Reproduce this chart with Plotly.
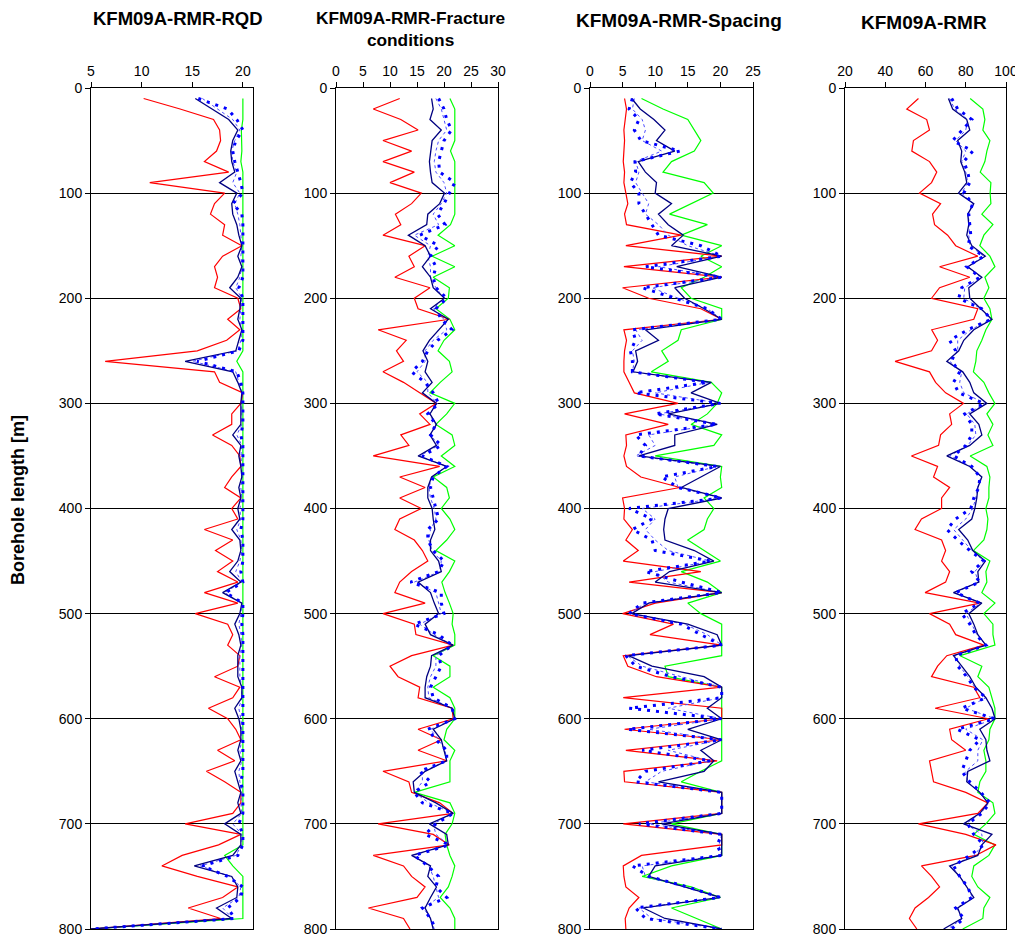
import plotly.graph_objects as go

# ---------------- data ----------------
depth = list(range(10, 801, 10))

# Panel 1: RQD
rqd_min = [10.2, 13.8, 17.1, 17.7, 17.8, 17.4, 16.2, 18.6, 10.8, 18.2,
           17.2, 16.8, 18.2, 18.0, 19.9, 18.0, 17.2, 17.5, 17.2, 19.5,
           19.8, 18.5, 19.7, 18.4, 15.5, 6.4, 17.2, 17.7, 20.0, 19.8,
           18.9, 18.9, 17.0, 18.9, 19.7, 19.8, 18.9, 18.2, 19.8, 18.9,
           19.5, 16.2, 19.0, 17.3, 19.0, 17.5, 19.5, 16.2, 19.5, 15.3,
           18.5, 19.0, 18.5, 19.7, 19.5, 17.2, 19.7, 19.0, 16.6, 18.5,
           19.3, 19.8, 17.5, 19.2, 16.4, 18.2, 19.8, 19.8, 19.0, 14.3,
           19.8, 17.6, 14.0, 12.0, 15.5, 19.5, 18.0, 14.6, 17.8, 5.0]
rqd_max = [20.0, 20.0, 20.0, 19.85, 19.85, 19.9, 19.8, 20.0, 20.0, 20.0,
           20.0, 20.0, 20.0, 20.0, 20.0, 20.0, 20.0, 20.0, 20.0, 20.0,
           20.0, 20.0, 20.0, 20.0, 20.0, 19.4, 20.0, 20.0, 20.0, 20.0,
           20.0, 20.0, 20.0, 20.0, 20.0, 20.0, 20.0, 20.0, 20.0, 20.0,
           20.0, 20.0, 20.0, 20.0, 20.0, 20.0, 20.0, 20.0, 20.0, 20.0,
           20.0, 20.0, 20.0, 20.0, 20.0, 20.0, 20.0, 20.0, 20.0, 20.0,
           20.0, 20.0, 20.0, 20.0, 20.0, 20.0, 20.0, 20.0, 20.0, 20.0,
           20.0, 20.0, 18.2, 19.0, 20.0, 20.0, 20.0, 20.0, 20.0, 5.0]
rqd_mean = [15.3, 16.9, 18.6, 19.5, 19.0, 18.8, 18.9, 19.2, 17.7, 19.4,
            18.9, 19.0, 19.4, 19.6, 19.9, 19.5, 19.9, 19.5, 18.7, 19.8,
            19.7, 19.5, 19.9, 19.6, 19.3, 14.3, 19.0, 19.5, 19.9, 19.8,
            19.8, 19.8, 19.0, 19.8, 19.6, 19.8, 19.9, 19.6, 19.8, 19.5,
            19.7, 18.9, 19.7, 19.8, 19.5, 18.7, 19.8, 18.0, 19.9, 19.7,
            19.2, 19.6, 19.8, 19.5, 19.5, 19.5, 19.9, 19.9, 19.2, 19.6,
            19.8, 19.8, 19.5, 19.8, 19.2, 19.5, 19.8, 19.5, 19.8, 18.2,
            19.8, 19.8, 19.0, 15.2, 18.9, 19.5, 19.4, 17.4, 18.9, 5.0]
rqd_dot = [15.6, 18.5, 19.4, 20.0, 19.3, 19.0, 19.2, 19.5, 19.8, 20.0,
           19.0, 19.9, 20.0, 20.0, 20.0, 20.0, 20.0, 20.0, 19.6, 20.0,
           20.0, 20.0, 20.0, 20.0, 19.6, 15.5, 19.4, 19.8, 20.0, 20.0,
           20.0, 20.0, 19.8, 20.0, 20.0, 20.0, 20.0, 20.0, 20.0, 20.0,
           20.0, 19.8, 20.0, 20.0, 20.0, 19.8, 20.0, 18.3, 20.0, 20.0,
           19.9, 20.0, 20.0, 20.0, 20.0, 20.0, 20.0, 20.0, 20.0, 20.0,
           20.0, 20.0, 20.0, 20.0, 20.0, 19.8, 20.0, 20.0, 20.0, 19.6,
           20.0, 20.0, 19.5, 16.0, 18.5, 20.0, 19.8, 18.5, 19.2, 5.0]
rqd_dash = [16.0, 17.5, 19.0, 19.7, 19.2, 18.9, 19.0, 19.4, 19.0, 19.7,
            19.2, 19.5, 19.7, 19.8, 19.9, 19.8, 19.9, 19.7, 19.3, 19.9,
            19.8, 19.7, 19.9, 19.8, 19.5, 15.0, 19.3, 19.6, 19.9, 19.9,
            19.9, 19.9, 19.4, 19.9, 19.8, 19.9, 19.9, 19.8, 19.9, 19.7,
            19.8, 19.4, 19.8, 19.9, 19.7, 19.3, 19.9, 18.2, 19.9, 19.8,
            19.6, 19.8, 19.9, 19.7, 19.7, 19.7, 19.9, 19.9, 19.6, 19.8,
            19.9, 19.9, 19.7, 19.9, 19.6, 19.7, 19.9, 19.8, 19.9, 19.0,
            19.9, 19.9, 19.3, 15.8, 18.7, 19.8, 19.6, 18.0, 19.0, 5.0]

# Panel 2: Fracture conditions
frac_min = [11.8, 6.9, 12.0, 15.2, 8.7, 14.0, 8.7, 14.5, 10.0, 15.8,
            14.0, 11.0, 12.0, 8.7, 16.5, 13.5, 14.5, 10.9, 17.4, 14.5,
            15.2, 21.0, 7.8, 13.0, 11.2, 12.5, 8.7, 12.5, 15.5, 18.6,
            15.5, 17.4, 12.0, 13.5, 6.9, 19.2, 11.8, 16.5, 11.8, 15.8,
            11.8, 10.9, 14.5, 16.0, 17.0, 14.0, 11.8, 10.9, 16.5, 8.7,
            14.5, 14.8, 21.7, 14.0, 10.0, 11.5, 15.5, 15.2, 21.5, 21.7,
            15.2, 19.5, 15.2, 20.5, 8.7, 13.5, 14.0, 19.2, 21.7, 7.8,
            18.0, 21.0, 6.9, 12.5, 14.0, 16.5, 15.0, 6.0, 12.5, 13.7]
frac_max = [21.1, 22.0, 22.0, 22.0, 22.0, 21.2, 22.0, 22.0, 22.0, 22.0,
            22.0, 22.0, 21.2, 18.9, 22.0, 17.8, 22.0, 18.0, 21.0, 20.8,
            18.5, 21.1, 22.0, 20.0, 18.9, 21.0, 21.5, 19.3, 17.4, 22.0,
            20.5, 18.5, 21.5, 22.0, 19.5, 22.0, 18.0, 20.5, 21.0, 19.5,
            21.1, 22.0, 20.5, 18.5, 22.0, 21.0, 19.6, 20.2, 21.0, 21.7,
            21.5, 22.0, 22.0, 18.0, 21.1, 21.1, 18.0, 21.1, 22.0, 22.0,
            20.5, 20.0, 22.0, 21.1, 21.1, 21.1, 14.5, 21.1, 22.0, 21.5,
            20.2, 20.5, 21.1, 22.0, 21.5, 20.8, 19.3, 21.1, 22.0, 22.0]
frac_mean = [17.7, 18.0, 17.4, 19.5, 17.8, 17.5, 17.3, 17.5, 17.8, 20.1,
             19.2, 17.0, 16.8, 13.4, 16.5, 17.5, 16.0, 17.5, 18.0, 20.1,
             17.5, 20.8, 19.0, 17.3, 16.1, 17.0, 16.5, 17.8, 16.0, 18.6,
             17.4, 18.6, 17.4, 18.6, 15.2, 20.5, 17.7, 17.0, 17.0, 17.8,
             18.0, 18.3, 17.5, 17.5, 19.0, 19.5, 15.2, 17.5, 18.2, 19.0,
             16.5, 17.5, 21.7, 17.7, 17.5, 16.8, 16.5, 16.5, 21.5, 22.0,
             18.0, 19.5, 20.0, 20.5, 16.5, 14.3, 14.5, 18.5, 21.7, 17.3,
             20.5, 20.8, 14.0, 17.5, 17.0, 18.6, 17.5, 16.5, 17.5, 18.0]
frac_dot = [19.0, 20.0, 20.5, 21.4, 20.0, 19.5, 19.0, 19.2, 22.0, 21.0,
            20.0, 18.8, 20.2, 15.5, 19.0, 17.5, 18.5, 18.0, 18.5, 20.5,
            18.5, 19.5, 21.5, 18.8, 17.0, 16.0, 14.0, 16.5, 18.0, 19.0,
            17.0, 18.5, 17.5, 19.5, 16.0, 20.5, 18.0, 17.5, 18.0, 18.5,
            19.0, 17.0, 17.0, 18.0, 20.0, 19.0, 13.8, 19.5, 19.5, 20.0,
            14.5, 19.0, 21.5, 19.0, 19.5, 18.5, 17.5, 18.0, 21.5, 22.0,
            17.0, 18.5, 20.5, 20.5, 15.5, 17.5, 14.5, 16.0, 21.7, 18.5,
            16.5, 21.0, 14.5, 17.0, 19.0, 18.5, 20.5, 16.0, 17.5, 18.5]
frac_dash = [18.5, 19.5, 20.0, 20.5, 19.0, 18.5, 18.2, 18.5, 20.0, 20.5,
             19.5, 18.0, 19.0, 14.5, 17.5, 17.0, 17.5, 17.5, 18.5, 20.0,
             18.0, 20.0, 20.5, 18.0, 16.5, 16.5, 15.0, 17.0, 17.0, 18.8,
             17.2, 18.5, 17.5, 19.0, 15.5, 20.5, 17.8, 17.2, 17.5, 18.2,
             18.5, 17.5, 17.2, 17.8, 19.5, 19.2, 14.5, 18.5, 19.0, 19.5,
             15.5, 18.2, 21.5, 18.5, 18.5, 17.5, 17.0, 17.2, 21.5, 22.0,
             17.5, 19.0, 20.2, 20.5, 16.0, 16.0, 14.5, 17.2, 21.7, 18.0,
             18.5, 20.8, 14.3, 17.2, 18.0, 18.5, 19.0, 16.2, 17.5, 18.2]

# Panel 3: Spacing
spc_min = [5.3, 5.6, 5.4, 5.2, 5.3, 5.2, 5.1, 5.3, 5.2, 5.5,
           5.8, 5.3, 5.6, 14.0, 5.5, 20.2, 5.2, 20.2, 5.0, 9.0,
           17.0, 20.2, 5.2, 5.6, 5.3, 5.2, 5.2, 6.0, 6.8, 13.5,
           5.3, 12.0, 5.5, 5.6, 5.2, 5.6, 7.8, 13.8, 5.0, 5.3,
           5.2, 6.5, 5.5, 7.4, 5.1, 17.0, 6.0, 20.2, 10.0, 5.0,
           12.8, 9.2, 20.2, 5.1, 5.8, 10.2, 20.2, 5.1, 20.2, 20.2,
           5.3, 20.2, 5.5, 19.5, 5.2, 5.3, 20.2, 20.2, 20.2, 5.1,
           20.2, 20.2, 7.9, 5.1, 5.2, 5.5, 7.5, 6.0, 5.4, 5.5]
spc_max = [7.9, 11.2, 15.0, 16.0, 17.0, 16.0, 12.5, 11.2, 17.5, 18.9,
           15.5, 12.2, 18.0, 14.0, 20.2, 17.0, 20.2, 17.5, 14.0, 15.5,
           20.2, 20.2, 14.0, 13.5, 11.0, 12.0, 9.4, 18.6, 20.2, 19.5,
           18.0, 15.5, 20.2, 19.0, 10.0, 20.2, 20.0, 20.2, 17.5, 19.0,
           18.0, 17.5, 15.0, 17.5, 20.0, 14.0, 18.0, 20.2, 15.0, 17.0,
           20.2, 20.2, 20.2, 20.2, 11.5, 12.0, 20.2, 20.2, 20.2, 20.2,
           20.2, 20.2, 20.2, 20.2, 17.0, 14.0, 20.2, 20.2, 20.2, 12.5,
           20.2, 20.2, 20.2, 12.5, 8.0, 15.5, 20.0, 12.5, 16.5, 20.2]
spc_mean = [6.4, 7.7, 9.8, 11.5, 10.2, 13.0, 7.4, 8.5, 10.2, 10.0,
            12.5, 10.5, 12.0, 14.3, 12.5, 20.2, 13.3, 20.2, 13.0, 14.5,
            17.5, 20.2, 8.5, 10.5, 7.0, 7.3, 6.6, 18.6, 15.5, 20.0,
            12.0, 19.5, 13.0, 13.0, 7.5, 20.0, 17.0, 14.0, 20.2, 12.0,
            11.5, 11.3, 11.5, 16.0, 19.0, 12.2, 10.0, 20.2, 9.0, 6.4,
            15.0, 19.5, 20.2, 5.9, 9.5, 17.5, 20.2, 20.2, 18.0, 20.2,
            15.0, 20.2, 17.0, 19.0, 17.5, 10.5, 20.2, 20.2, 20.2, 11.0,
            20.2, 20.2, 20.2, 10.0, 9.0, 14.5, 20.0, 8.2, 11.5, 20.2]
spc_dot = [6.5, 6.0, 7.5, 6.8, 7.8, 13.8, 6.9, 7.0, 6.2, 7.5,
           7.5, 8.5, 9.5, 10.5, 17.0, 20.2, 8.5, 20.2, 8.0, 13.0,
           18.0, 20.2, 6.5, 7.0, 6.2, 6.5, 6.5, 18.0, 7.0, 20.0,
           10.0, 19.5, 7.0, 8.5, 7.5, 19.5, 11.0, 13.5, 20.2, 6.0,
           9.5, 6.5, 9.5, 10.0, 18.5, 8.5, 14.0, 20.2, 8.0, 6.0,
           14.0, 17.0, 20.2, 5.5, 7.0, 12.5, 20.2, 20.2, 6.0, 20.2,
           5.8, 20.2, 8.0, 18.5, 8.5, 7.0, 20.2, 20.2, 20.2, 7.5,
           20.2, 19.5, 20.2, 6.5, 9.0, 15.0, 20.0, 7.0, 8.5, 20.2]
spc_dash = [6.8, 6.5, 8.0, 8.5, 8.0, 11.0, 7.0, 7.5, 7.0, 8.0,
            9.0, 8.5, 10.5, 12.0, 15.0, 20.2, 10.5, 20.2, 9.5, 13.5,
            18.0, 20.2, 7.0, 8.0, 6.5, 6.8, 6.5, 18.2, 10.0, 20.0,
            10.5, 19.5, 9.0, 10.0, 7.0, 19.5, 13.0, 13.5, 20.2, 8.0,
            10.0, 8.5, 10.0, 12.0, 18.5, 10.0, 12.0, 20.2, 8.5, 6.0,
            14.5, 18.0, 20.2, 5.7, 8.0, 14.0, 20.2, 20.2, 12.0, 20.2,
            9.0, 20.2, 12.0, 18.5, 11.0, 8.5, 20.2, 20.2, 20.2, 9.0,
            20.2, 19.8, 20.2, 8.0, 8.5, 14.5, 20.0, 7.5, 9.5, 20.2]

# Panel 4: RMR
rmr_min = [56.5, 50.7, 60.6, 62.0, 54.0, 53.2, 62.0, 65.6, 63.0, 57.0,
           67.5, 63.5, 64.5, 71.0, 75.0, 86.0, 67.0, 82.0, 67.0, 63.0,
           86.0, 84.0, 63.1, 66.0, 63.0, 44.9, 62.0, 65.0, 70.0, 78.9,
           72.0, 73.0, 67.5, 66.5, 53.0, 66.0, 64.0, 72.0, 68.0, 68.0,
           58.0, 54.8, 68.0, 70.0, 68.0, 72.0, 70.0, 59.8, 87.0, 62.0,
           72.0, 75.0, 89.0, 70.6, 66.0, 63.0, 84.0, 87.0, 64.8, 91.3,
           72.0, 73.0, 80.0, 62.0, 63.0, 64.0, 80.0, 91.0, 86.0, 56.5,
           80.0, 95.0, 85.0, 58.0, 63.0, 67.0, 61.5, 54.8, 52.0, 55.7]
rmr_max = [82.2, 88.5, 89.5, 88.5, 92.0, 90.5, 89.5, 87.2, 92.5, 92.1,
           92.5, 88.0, 93.5, 89.0, 87.0, 92.0, 94.5, 89.5, 91.5, 89.0,
           92.0, 93.0, 90.0, 88.0, 85.5, 85.0, 83.8, 89.0, 91.5, 94.5,
           90.5, 93.5, 91.0, 93.5, 82.2, 90.5, 92.0, 91.5, 91.5, 90.0,
           91.0, 90.5, 89.0, 83.8, 92.0, 90.0, 90.5, 88.0, 94.5, 89.0,
           93.5, 93.5, 94.5, 77.2, 88.0, 86.0, 91.5, 93.0, 94.5, 94.5,
           92.0, 91.5, 89.0, 90.0, 90.0, 87.0, 86.0, 93.5, 94.5, 90.0,
           84.0, 94.5, 91.5, 84.0, 83.0, 86.0, 92.0, 89.0, 88.5, 78.5]
rmr_mean = [71.4, 73.5, 80.5, 82.0, 76.0, 78.0, 77.5, 79.5, 80.5, 76.4,
            84.0, 81.0, 81.5, 80.5, 83.0, 89.7, 81.0, 88.0, 81.5, 82.0,
            87.5, 93.0, 84.0, 79.0, 76.5, 70.6, 78.5, 82.0, 84.0, 90.5,
            82.0, 86.5, 88.0, 82.0, 70.6, 82.0, 88.0, 86.0, 85.5, 84.5,
            83.0, 76.5, 81.0, 83.5, 89.7, 86.0, 86.5, 73.9, 88.0, 81.5,
            84.0, 86.0, 90.0, 73.9, 78.0, 82.0, 85.0, 90.0, 93.0, 94.6,
            87.0, 90.0, 90.5, 92.0, 81.0, 80.5, 87.0, 91.0, 87.0, 78.9,
            93.0, 88.0, 86.0, 72.0, 77.0, 80.5, 84.0, 76.0, 78.0, 69.0]
rmr_dot = [73.0, 76.0, 83.0, 78.0, 73.5, 83.5, 79.0, 81.0, 82.0, 79.0,
           83.5, 81.5, 82.0, 82.5, 81.0, 89.0, 80.5, 87.0, 78.0, 76.5,
           88.0, 92.5, 81.0, 72.0, 75.0, 73.0, 77.0, 73.9, 76.5, 89.0,
           79.5, 83.0, 83.0, 80.0, 74.0, 83.0, 87.0, 86.5, 84.0, 82.5,
           75.0, 70.6, 76.0, 82.0, 89.0, 83.0, 87.0, 75.0, 87.0, 78.0,
           82.0, 85.0, 90.0, 75.0, 76.0, 80.5, 84.0, 90.0, 78.0, 94.5,
           75.6, 87.0, 82.0, 80.0, 78.0, 82.0, 87.5, 92.0, 88.0, 81.0,
           84.0, 89.0, 82.0, 74.0, 77.0, 81.0, 83.0, 75.0, 79.0, 73.0]
rmr_dash = [72.0, 74.5, 81.0, 80.0, 75.0, 80.0, 78.0, 80.0, 81.0, 78.0,
            83.5, 81.0, 82.0, 81.5, 82.0, 89.0, 81.0, 87.5, 79.5, 79.0,
            87.5, 92.5, 82.5, 76.0, 76.0, 72.0, 78.0, 77.0, 79.0, 89.5,
            80.5, 84.5, 85.0, 81.0, 72.0, 82.5, 87.5, 86.0, 85.0, 83.5,
            80.0, 74.0, 78.5, 83.0, 89.0, 84.5, 86.5, 74.5, 87.5, 80.0,
            83.0, 85.5, 90.0, 74.5, 77.0, 81.0, 84.5, 90.0, 80.0, 94.5,
            80.0, 88.5, 86.0, 86.0, 80.0, 81.0, 87.0, 91.5, 87.5, 80.0,
            88.0, 88.5, 84.0, 73.0, 77.0, 80.5, 83.5, 75.5, 78.5, 71.0]

titles = ["KFM09A-RMR-RQD", "KFM09A-RMR-Fracture<br>conditions",
          "KFM09A-RMR-Spacing", "KFM09A-RMR"]
x_ranges = [[5, 21], [0, 30], [0, 25], [20, 100]]
x_ticks = [[5, 10, 15, 20], [0, 5, 10, 15, 20, 25, 30],
           [0, 5, 10, 15, 20, 25], [20, 40, 60, 80, 100]]
y_ticks = [0, 100, 200, 300, 400, 500, 600, 700, 800]
y_title = "Borehole length [m]"

panels = [
    (rqd_min, rqd_max, rqd_mean, rqd_dot, rqd_dash),
    (frac_min, frac_max, frac_mean, frac_dot, frac_dash),
    (spc_min, spc_max, spc_mean, spc_dot, spc_dash),
    (rmr_min, rmr_max, rmr_mean, rmr_dot, rmr_dash),
]

# ---------------- layout geometry ----------------
# the page body adds an 8 px offset, so the figure is 8 px smaller
OFF = 8
W, H = 1023 - OFF, 937 - OFF
x_px = [(91, 253), (336, 498), (590, 753), (845, 1006)]
y_top, y_bot = 88, 929


def px(v):
    return v - OFF


y_dom = [1 - px(y_bot) / H, 1 - px(y_top) / H]
title_pos = [(178, 19), (411, 29), (679, 21), (924, 23)]
title_size = [18.5, 17.3, 19, 19]

FONT = "Liberation Sans, Arial, Helvetica, sans-serif"

fig = go.Figure()
layout = dict(
    template="none",
    width=W, height=H,
    margin=dict(l=0, r=0, t=0, b=0, pad=0, autoexpand=False),
    paper_bgcolor="white", plot_bgcolor="white",
    showlegend=False,
    font=dict(family=FONT, size=14, color="black"),
    annotations=[],
)

styles = [
    ("Max", dict(color="#00FF00", width=1.2)),
    ("Min", dict(color="#FF0000", width=1.2)),
    ("Dash", dict(color="#4D4DFF", width=1, dash="3px,3px")),
    ("Mean", dict(color="#000080", width=1.3)),
    ("Dot", dict(color="#0000FF", width=3, dash="3px,6px")),
]

for i, (vmin, vmax, vmean, vdot, vdash) in enumerate(panels):
    n = i + 1
    xa = "x" if n == 1 else f"x{n}"
    ya = "y" if n == 1 else f"y{n}"
    series = {"Max": vmax, "Min": vmin, "Dash": vdash, "Mean": vmean, "Dot": vdot}
    for name, ln in styles:
        fig.add_trace(go.Scatter(
            x=series[name], y=depth, mode="lines", name=name,
            line=ln, xaxis=xa, yaxis=ya, hoverinfo="x+y",
        ))
    x0, x1 = x_px[i]
    layout[f"xaxis{'' if n == 1 else n}"] = dict(
        domain=[px(x0) / W, px(x1) / W], anchor=ya, side="top",
        range=x_ranges[i], tickvals=x_ticks[i], automargin=False,
        ticks="outside", ticklen=5, tickcolor="black",
        showline=True, linecolor="black", linewidth=1, mirror=True,
        showgrid=False, zeroline=False,
        tickfont=dict(size=14, family=FONT),
    )
    layout[f"yaxis{'' if n == 1 else n}"] = dict(
        domain=y_dom, anchor=xa, automargin=False,
        range=[800, 0], tickvals=y_ticks,
        ticks="outside", ticklen=5, tickcolor="black",
        showline=True, linecolor="black", linewidth=1, mirror=True,
        showgrid=True, gridcolor="black", gridwidth=1, zeroline=False,
        tickfont=dict(size=14, family=FONT),
    )
    tx, ty = title_pos[i]
    layout["annotations"].append(dict(
        text=f"<b>{titles[i]}</b>", x=px(tx) / W, y=1 - px(ty) / H,
        xref="paper", yref="paper", showarrow=False,
        xanchor="center", yanchor="middle",
        font=dict(size=title_size[i], family=FONT, color="black"),
    ))

layout["annotations"].append(dict(
    text=f"<b>{y_title}</b>", x=px(18) / W, y=1 - px(500) / H,
    xref="paper", yref="paper", showarrow=False, textangle=-90,
    xanchor="center", yanchor="middle",
    font=dict(size=18, family=FONT, color="black"),
))

fig.update_layout(**layout)
fig.write_html("out.html")
